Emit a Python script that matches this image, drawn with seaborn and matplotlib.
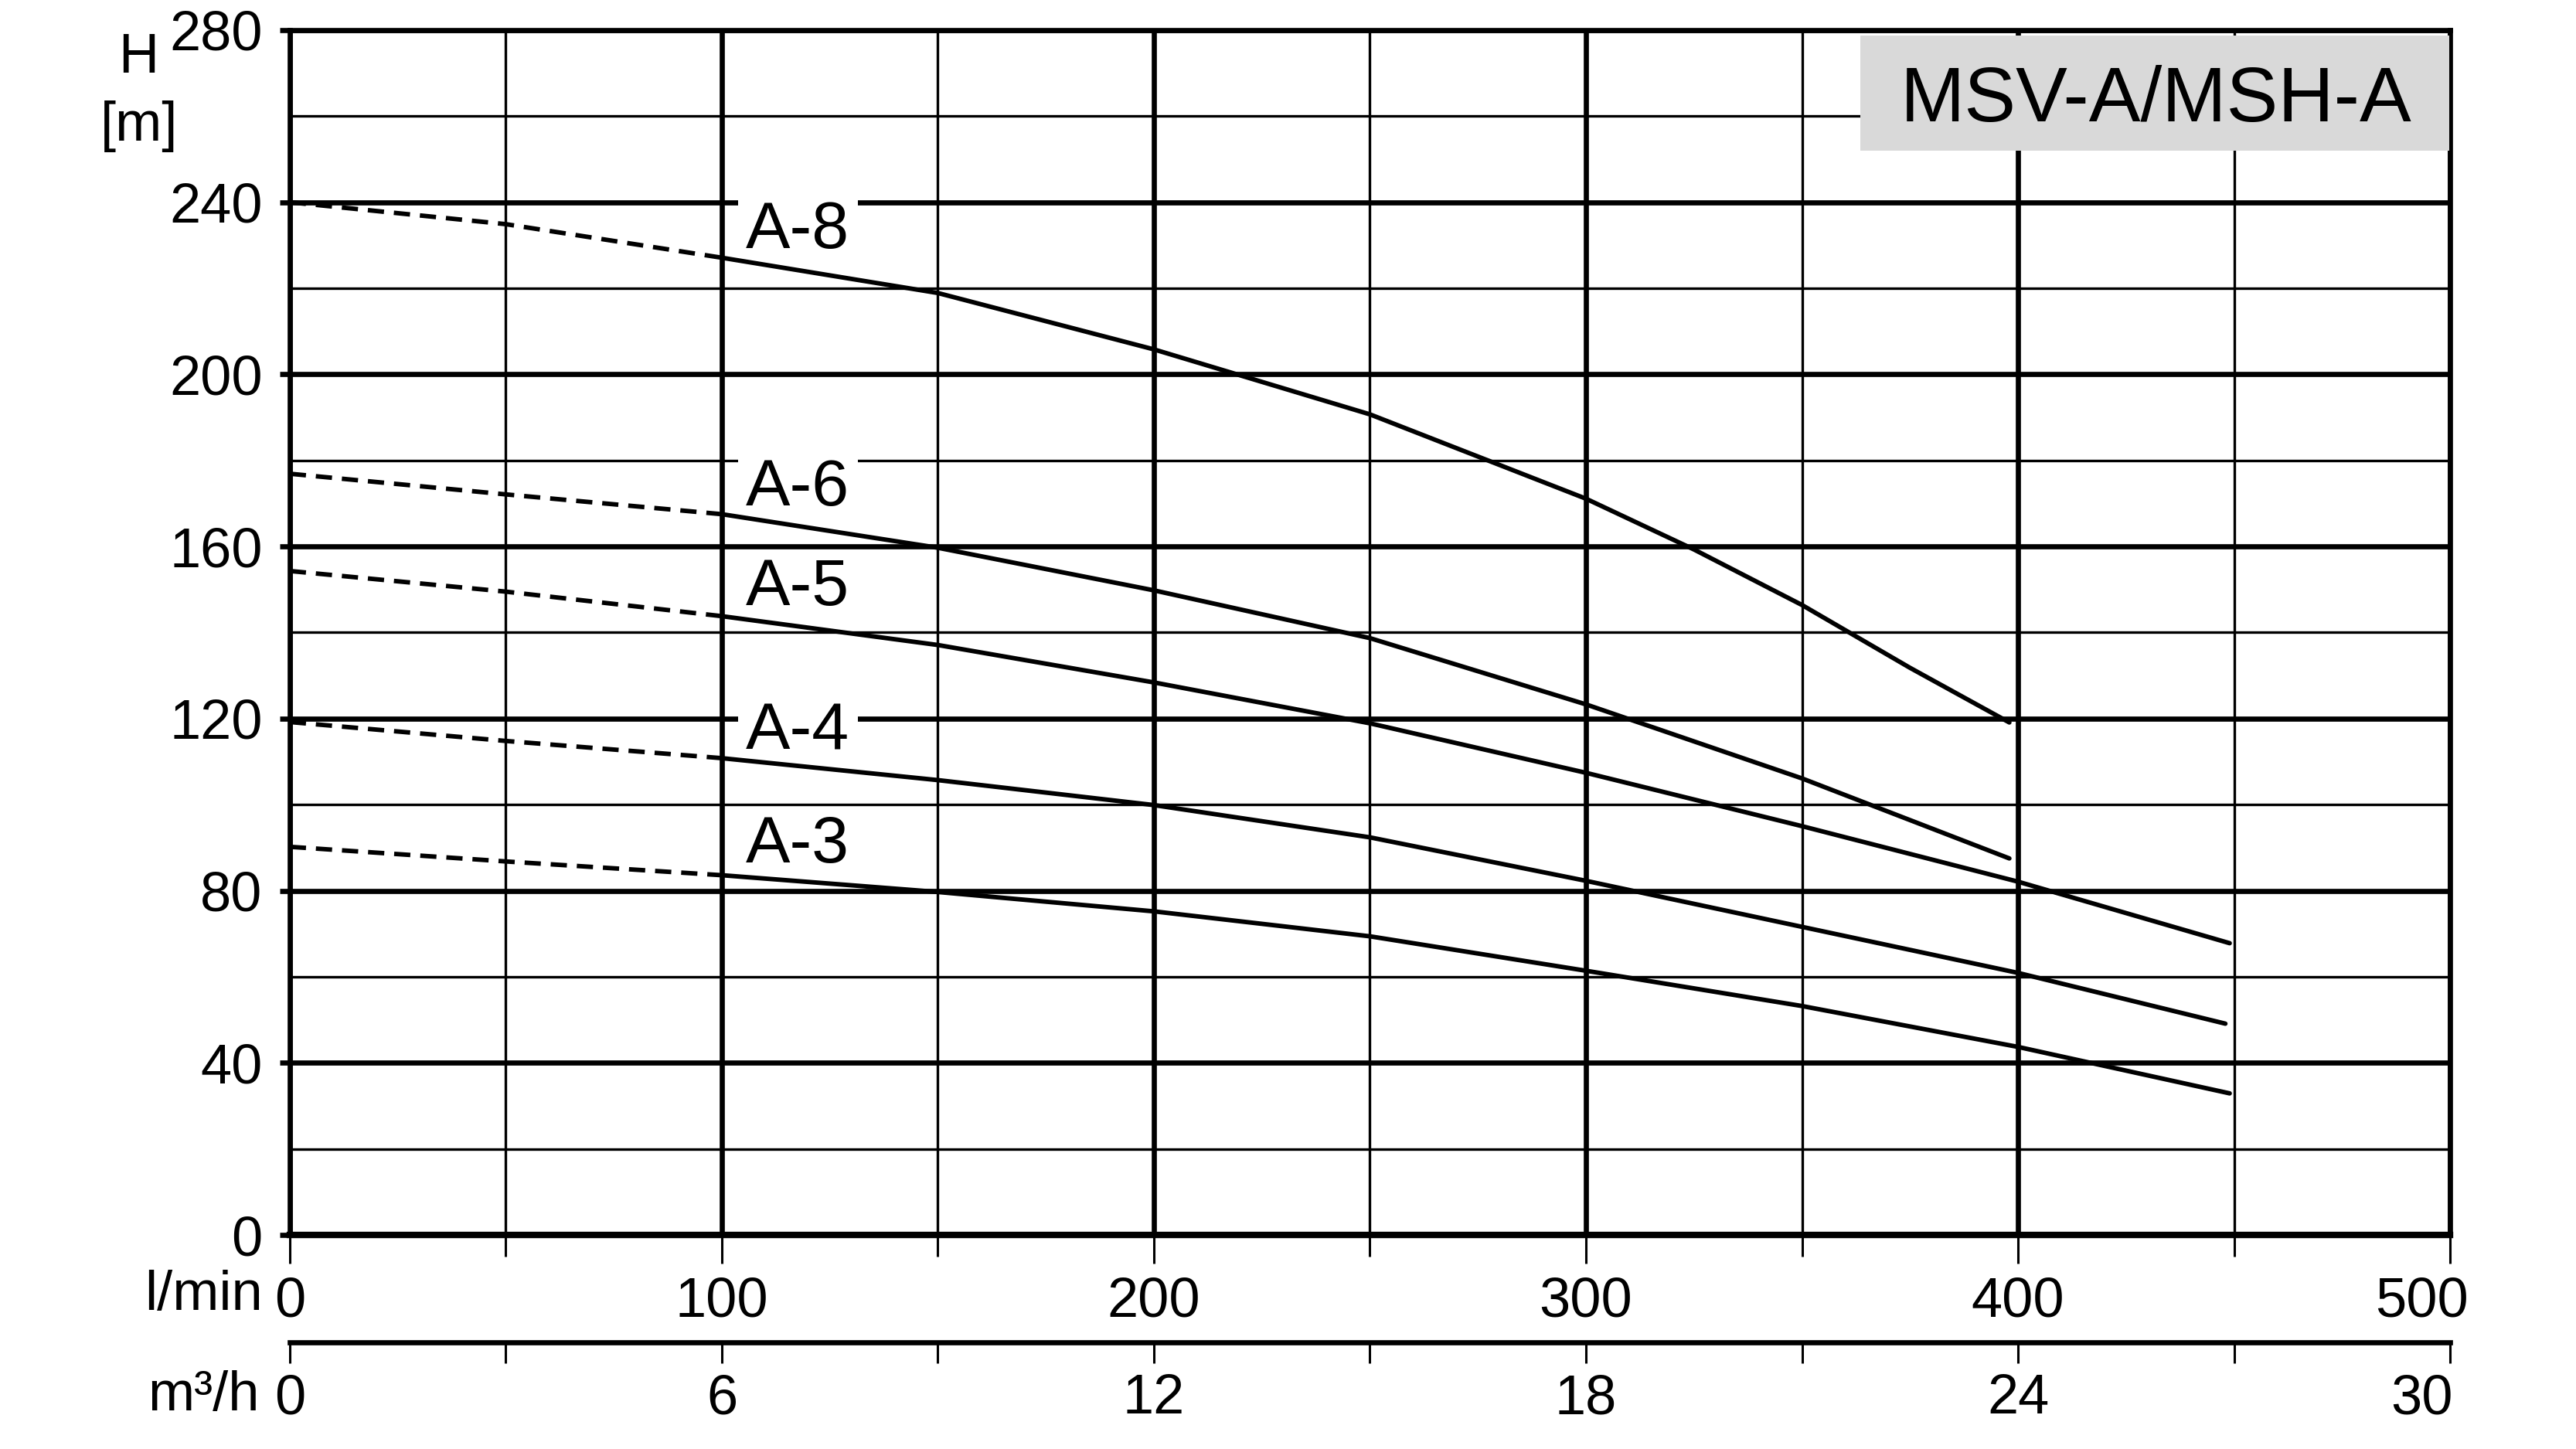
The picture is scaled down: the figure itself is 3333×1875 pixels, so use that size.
import numpy as np
import pandas as pd
import matplotlib
matplotlib.use("Agg")
import matplotlib.pyplot as plt
import seaborn as sns
from matplotlib.ticker import FixedLocator, MultipleLocator
from matplotlib.patches import Rectangle
import matplotlib.transforms as mtransforms

# ---------------- data ----------------
pumps = ["A-8", "A-6", "A-5", "A-4", "A-3"]
q_a8 = [0, 50, 100, 150, 200, 250, 300, 325, 350, 375, 398]
h_a8 = [240.0, 234.9, 227.1, 218.9, 205.8, 190.7, 171.1, 159.3, 146.4, 131.8, 119.1]
q_a6 = [0, 50, 100, 150, 200, 250, 300, 350, 398]
h_a6 = [176.9, 172.1, 167.5, 159.7, 149.8, 138.7, 123.3, 106.1, 87.5]
q_a5 = [0, 50, 100, 150, 200, 250, 300, 350, 400, 449]
h_a5 = [154.3, 149.5, 143.8, 137.1, 128.4, 118.9, 107.4, 95.0, 82.1, 67.8]
q_a4 = [0, 50, 100, 150, 200, 250, 300, 350, 400, 448]
h_a4 = [119.2, 114.8, 110.8, 105.7, 99.9, 92.4, 82.3, 71.6, 60.9, 49.1]
q_a3 = [0, 50, 100, 150, 200, 250, 300, 350, 400, 449]
h_a3 = [90.2, 86.8, 83.6, 79.7, 75.2, 69.4, 61.4, 53.2, 43.7, 32.9]
dash_limit = 100  # curves are dashed below this flow

label_baseline = [229.4, 169.5, 146.3, 112.9, 86.5]
label_x = 105.6

x_ticks_lmin = [0, 100, 200, 300, 400, 500]
x_labels_lmin = ["0", "100", "200", "300", "400", "500"]
y_ticks = [0, 40, 80, 120, 160, 200, 240, 280]
y_labels = ["0", "40", "80", "120", "160", "200", "240", "280"]
x_ticks_m3h = [0, 6, 12, 18, 24, 30]
x_labels_m3h = ["0", "6", "12", "18", "24", "30"]
title = "MSV-A/MSH-A"

# ---------------- build table ----------------
series = {"A-8": (q_a8, h_a8), "A-6": (q_a6, h_a6), "A-5": (q_a5, h_a5),
          "A-4": (q_a4, h_a4), "A-3": (q_a3, h_a3)}
rows = []
for p in pumps:
    qs, hs = series[p]
    for q, h in zip(qs, hs):
        if q <= dash_limit:
            rows.append(dict(Q=q, H=h, pump=p, part="dashed", seg=p + "_d"))
        if q >= dash_limit:
            rows.append(dict(Q=q, H=h, pump=p, part="solid", seg=p + "_s"))
df = pd.DataFrame(rows)

# ---------------- style ----------------
sns.set_style("white")
plt.rcParams["font.family"] = ["Liberation Sans", "DejaVu Sans"]
plt.rcParams["text.color"] = "black"
plt.rcParams["axes.edgecolor"] = "black"
plt.rcParams["xtick.color"] = "black"
plt.rcParams["ytick.color"] = "black"
plt.rcParams["axes.labelcolor"] = "black"

fig = plt.figure(figsize=(16.665, 9.375), dpi=200)
L, B, W, Hh = 0.1125, 0.14773, 0.8386, 0.8315
ax = fig.add_axes([L, B, W, Hh])

sns.lineplot(data=df, x="Q", y="H", units="seg", estimator=None, style="part",
             dashes={"dashed": (3.6, 2.2), "solid": ""}, color="black",
             lw=2.1, legend=False, ax=ax, sort=True, zorder=3)

ax.set_xlim(0, 500)
ax.set_ylim(0, 280)
ax.set_xlabel("")
ax.set_ylabel("")
ax.xaxis.set_major_locator(FixedLocator(x_ticks_lmin))
ax.xaxis.set_minor_locator(MultipleLocator(50))
ax.yaxis.set_major_locator(FixedLocator(y_ticks))
ax.yaxis.set_minor_locator(MultipleLocator(20))
ax.set_xticks(x_ticks_lmin, labels=x_labels_lmin)
ax.set_yticks(y_ticks, labels=y_labels)

ax.grid(which="major", color="black", lw=2.4)
ax.grid(which="minor", color="black", lw=1.2)
ax.set_axisbelow(True)
for s in ax.spines.values():
    s.set_color("black")
    s.set_linewidth(2.4)
ax.spines["bottom"].set_linewidth(3.0)

ax.tick_params(axis="x", which="major", bottom=True, direction="out", length=13.3,
               width=1.1, pad=6, labelsize=26)
ax.tick_params(axis="x", which="minor", bottom=True, direction="out", length=10,
               width=1.1)
ax.tick_params(axis="y", which="major", left=True, direction="out", length=4.7,
               width=2.4, pad=8, labelsize=26)
ax.tick_params(axis="y", which="minor", left=False, length=0)

# curve labels with white background (below the curves, above the grid)
for p, yb in zip(pumps, label_baseline):
    ax.text(label_x, yb, p, fontsize=31, ha="left", va="baseline", zorder=2,
            bbox=dict(boxstyle="square,pad=0.12", facecolor="white", edgecolor="none"))

# title box
ax.add_patch(Rectangle((363.5, 252), 136.3, 26.7, facecolor="#d9d9d9",
                       edgecolor="none", zorder=4))
ax.text(432, 258.8, title, fontsize=36, ha="center", va="baseline", zorder=5)

# second axis in m3/h
ax2 = fig.add_axes([L, 0.0736, W, 0.0001])
ax2.set_xlim(0, 30)
ax2.set_ylim(0, 1)
ax2.patch.set_visible(False)
for k in ["left", "right", "top"]:
    ax2.spines[k].set_visible(False)
ax2.spines["bottom"].set_linewidth(2.4)
ax2.spines["bottom"].set_color("black")
ax2.set_yticks([])
ax2.set_xticks(x_ticks_m3h, labels=x_labels_m3h)
ax2.xaxis.set_minor_locator(MultipleLocator(3))
ax2.tick_params(axis="x", which="major", bottom=True, direction="out", length=9.7,
                width=1.1, pad=4.7, labelsize=26)
ax2.tick_params(axis="x", which="minor", bottom=True, direction="out", length=9.7,
                width=1.1)
ax2.grid(False)

# shift the last labels slightly left, as in the reference
off = mtransforms.ScaledTranslation(-13.3 / 72, 0, fig.dpi_scale_trans)
for a in (ax, ax2):
    lab = a.get_xticklabels()[-1]
    lab.set_transform(lab.get_transform() + off)

# axis unit labels
fig.text(0.0537, 0.96, "H", fontsize=26, ha="center", va="center")
fig.text(0.054, 0.913, "[m]", fontsize=26, ha="center", va="center")
fig.text(0.102, 1 - 1695 / 1875, "l/min", fontsize=26, ha="right", va="baseline")
fig.text(0.1008, 1 - 1825 / 1875, "m³/h", fontsize=26, ha="right", va="baseline")

fig.savefig("out.png", dpi=200, facecolor="white")
